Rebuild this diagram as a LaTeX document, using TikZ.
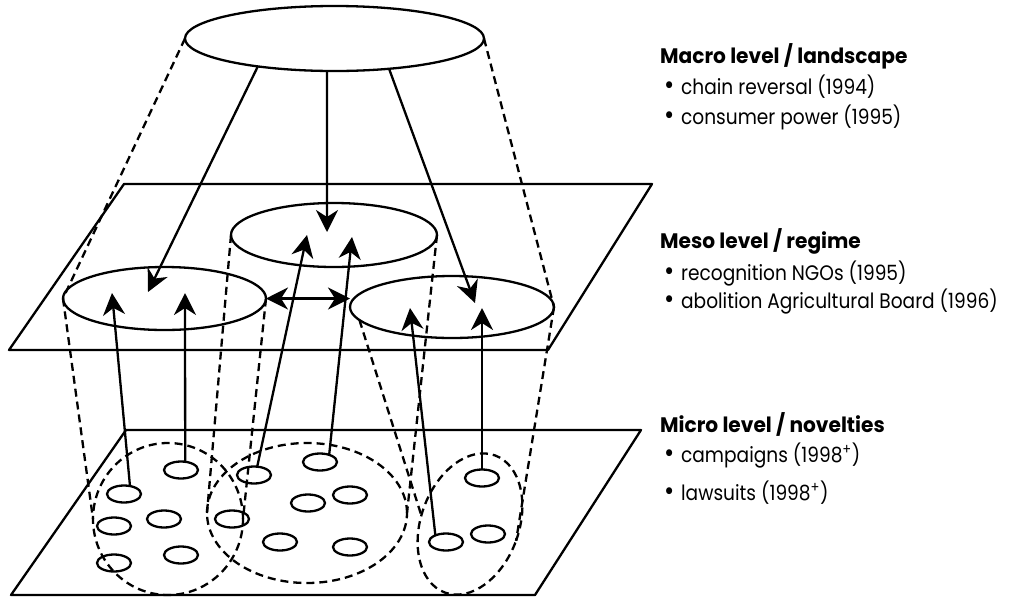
\documentclass[tikz,border=0pt]{standalone}
\usepackage{fontspec}
\setmainfont{Poppins}[FakeStretch=0.885]
\newfontfamily\hdfont{Poppins}[FakeStretch=0.96]
\usetikzlibrary{shapes.geometric,arrows.meta}
\newcommand{\myblt}{\makebox[17pt][l]{\fontsize{28}{28}\selectfont •}}
\begin{document}
\begin{tikzpicture}[x=1pt,y=-1pt,line width=2.3pt,line join=round,
  ell/.style={draw,ellipse,inner sep=0pt,outer sep=0pt},
  sm/.style={ell,minimum width=34pt,minimum height=17pt},
  dsh/.style={dash pattern=on 8pt off 5pt},
  arr/.style={-{Stealth[length=22pt,width=22pt,inset=7pt]}},
  darr/.style={{Stealth[length=22pt,width=22pt,inset=7pt]}-{Stealth[length=22pt,width=22pt,inset=7pt]}},
  txt/.style={anchor=base west,inner sep=0pt,font=\fontsize{21}{25}\selectfont},
  hd/.style={anchor=base west,inner sep=0pt,font=\hdfont\bfseries\fontsize{21}{25}\selectfont}]
\useasboundingbox (0,0) rectangle (1013,598);
% planes
\draw (124,184) -- (652,184) -- (548,350) -- (9,350) -- cycle;
\draw (126,430) -- (641,430) -- (535,595) -- (11,595) -- cycle;
% macro ellipse
\node[ell,minimum width=299pt,minimum height=65pt] (T) at (334.5,38.5) {};
% meso ellipses
\node[ell,minimum width=203pt,minimum height=63pt] (ML) at (164.5,298.5) {};
\node[ell,minimum width=206pt,minimum height=64pt] (MM) at (334,235) {};
\node[ell,minimum width=204pt,minimum height=62pt] (MR) at (452,307) {};
% micro groups
\node[ell,dsh,minimum width=150pt,minimum height=152pt] (GL) at (168,519) {};
\node[ell,dsh,minimum width=200pt,minimum height=140pt] (GM) at (307,513) {};
\node[ell,dsh,minimum width=98pt,minimum height=146pt,rotate=-20] (GR) at (470,524) {};
% micro novelties
\node[sm] (m1) at (181,470) {};
\node[sm] (m2) at (124,494) {};
\node[sm] (m3) at (114,526) {};
\node[sm] (m4) at (164,519) {};
\node[sm] (m5) at (232,519) {};
\node[sm] (m6) at (114,563) {};
\node[sm] (m7) at (181,555) {};
\node[sm] (m8) at (254,475) {};
\node[sm] (m9) at (320,462) {};
\node[sm] (m10) at (308,503) {};
\node[sm] (m11) at (350,495) {};
\node[sm] (m12) at (280,542) {};
\node[sm] (m13) at (350,547) {};
\node[sm] (m14) at (446,542) {};
\node[sm] (m15) at (488,534) {};
\node[sm] (m16) at (482,478) {};
% dashed projection lines
\draw[dsh] (T.west) -- (ML.west);
\draw[dsh] (T.east) -- (MR.east);
\draw[dsh] (ML.west) -- (GL.west);
\draw[dsh] (ML.east) -- (GL.east);
\draw[dsh] (MM.west) -- (GM.west);
\draw[dsh] (MM.east) -- (GM.east);
\draw[dsh] (MR.188) -- (GR.190);
\draw[dsh] (MR.east) -- (GR.east);
% arrow tips (free ends)
\coordinate (tL) at (148,292);
\coordinate (tM) at (327,232);
\coordinate (tR) at (475,303);
\coordinate (uA1) at (112,293);
\coordinate (uA2) at (185,293);
\coordinate (uB1) at (307,235);
\coordinate (uB2) at (352,237);
\coordinate (uC1) at (410,308);
\coordinate (uC2) at (482,308);
% top-down arrows
\draw[arr] (T.200) -- (tL);
\draw[arr] (T.257) -- (tM);
\draw[arr] (T.331) -- (tR);
% bottom-up arrows
\draw[arr] (m2.53) -- (uA1);
\draw[arr] (m1.63) -- (uA2);
\draw[arr] (m8.69) -- (uB1);
\draw[arr] (m9.38) -- (uB2);
\draw[arr] (m14.148) -- (uC1);
\draw[arr] (m16.north) -- (uC2);
% interaction
\draw[darr] (ML.east) -- (ML.east -| MR.west);
% texts
\node[hd] (h1) at (659,63) {Macro level / landscape};
\node[txt] (a1) at (663,94) {\myblt chain reversal (1994)};
\node[txt] (a2) at (663,124) {\myblt consumer power (1995)};
\node[hd] (h2) at (659,248) {Meso level / regime};
\node[txt] (b1) at (663,280) {\myblt recognition NGOs (1995)};
\node[txt] (b2) at (663,308) {\myblt abolition Agricultural Board (1996)};
\node[hd] (h3) at (659,432) {Micro level / novelties};
\node[txt] (c1) at (663,462) {\myblt campaigns (1998\textsuperscript{+})};
\node[txt] (c2) at (663,500) {\myblt lawsuits (1998\textsuperscript{+})};
\end{tikzpicture}
\end{document}
